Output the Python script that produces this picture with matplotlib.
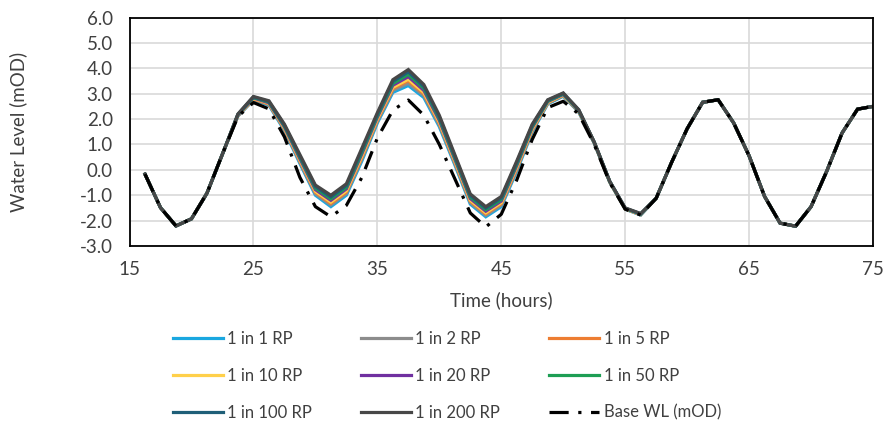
import matplotlib
matplotlib.use('Agg')
import matplotlib.pyplot as plt

plt.rcParams['font.family'] = ['Lato', 'DejaVu Sans']

# 时间 (小时)
hours = [16.25, 17.5, 18.75, 20, 21.25, 22.5, 23.75, 25, 26.25, 27.5, 28.75, 30,
         31.25, 32.5, 33.75, 35, 36.25, 37.5, 38.75, 40, 41.25, 42.5, 43.75, 45,
         46.25, 47.5, 48.75, 50, 51.25, 52.5, 53.75, 55, 56.25, 57.5, 58.75, 60,
         61.25, 62.5, 63.75, 65, 66.25, 67.5, 68.75, 70, 71.25, 72.5, 73.75, 75]

rp_1 = [-0.17, -1.49, -2.21, -1.93, -0.92, 0.62, 2.12, 2.75, 2.55, 1.55, 0.25, -1.00,
        -1.45, -1.00, 0.35, 1.85, 3.05, 3.32, 2.85, 1.70, 0.20, -1.35, -1.85, -1.45,
        -0.05, 1.50, 2.60, 2.90, 2.28, 1.05, -0.48, -1.55, -1.78, -1.12, 0.30, 1.62,
        2.66, 2.76, 1.85, 0.55, -1.05, -2.10, -2.22, -1.45, -0.07, 1.45, 2.39, 2.50]
rp_2 = [-0.17, -1.49, -2.21, -1.93, -0.92, 0.62, 2.13, 2.77, 2.58, 1.59, 0.30, -0.94,
        -1.38, -0.93, 0.43, 1.91, 3.13, 3.41, 2.93, 1.77, 0.26, -1.29, -1.79, -1.39,
        0.01, 1.55, 2.62, 2.92, 2.29, 1.06, -0.48, -1.54, -1.77, -1.12, 0.30, 1.62,
        2.66, 2.76, 1.85, 0.55, -1.05, -2.10, -2.22, -1.45, -0.07, 1.45, 2.39, 2.50]
rp_5 = [-0.17, -1.49, -2.21, -1.93, -0.92, 0.62, 2.14, 2.79, 2.60, 1.63, 0.36, -0.88,
        -1.32, -0.87, 0.50, 1.97, 3.20, 3.51, 3.00, 1.84, 0.32, -1.23, -1.73, -1.33,
        0.07, 1.59, 2.65, 2.94, 2.31, 1.07, -0.47, -1.54, -1.76, -1.12, 0.30, 1.62,
        2.66, 2.76, 1.85, 0.55, -1.05, -2.10, -2.22, -1.45, -0.07, 1.45, 2.39, 2.50]
rp_10 = [-0.17, -1.49, -2.21, -1.93, -0.92, 0.62, 2.15, 2.81, 2.62, 1.65, 0.39, -0.84,
         -1.27, -0.82, 0.55, 2.01, 3.25, 3.57, 3.05, 1.88, 0.36, -1.19, -1.69, -1.29,
         0.11, 1.62, 2.66, 2.95, 2.32, 1.07, -0.47, -1.53, -1.76, -1.12, 0.30, 1.62,
         2.66, 2.76, 1.85, 0.55, -1.05, -2.10, -2.22, -1.45, -0.07, 1.45, 2.39, 2.50]
rp_20 = [-0.17, -1.49, -2.21, -1.93, -0.92, 0.62, 2.16, 2.83, 2.64, 1.69, 0.44, -0.78,
         -1.20, -0.75, 0.63, 2.07, 3.33, 3.67, 3.13, 1.95, 0.42, -1.13, -1.63, -1.23,
         0.17, 1.67, 2.69, 2.97, 2.33, 1.08, -0.46, -1.52, -1.75, -1.12, 0.30, 1.62,
         2.66, 2.76, 1.85, 0.55, -1.05, -2.10, -2.22, -1.45, -0.07, 1.45, 2.39, 2.50]
rp_50 = [-0.17, -1.49, -2.21, -1.93, -0.92, 0.62, 2.18, 2.85, 2.67, 1.73, 0.50, -0.72,
         -1.14, -0.69, 0.70, 2.13, 3.40, 3.76, 3.21, 2.02, 0.48, -1.07, -1.57, -1.17,
         0.23, 1.71, 2.71, 2.99, 2.34, 1.09, -0.46, -1.52, -1.74, -1.12, 0.30, 1.62,
         2.66, 2.76, 1.85, 0.55, -1.05, -2.10, -2.22, -1.45, -0.07, 1.45, 2.39, 2.50]
rp_100 = [-0.17, -1.49, -2.21, -1.93, -0.92, 0.62, 2.19, 2.87, 2.69, 1.76, 0.55, -0.66,
          -1.07, -0.62, 0.78, 2.19, 3.48, 3.86, 3.28, 2.08, 0.54, -1.01, -1.51, -1.11,
          0.29, 1.76, 2.74, 3.01, 2.36, 1.09, -0.45, -1.51, -1.73, -1.12, 0.30, 1.62,
          2.66, 2.76, 1.85, 0.55, -1.05, -2.10, -2.22, -1.45, -0.07, 1.45, 2.39, 2.50]
rp_200 = [-0.17, -1.49, -2.21, -1.93, -0.92, 0.62, 2.20, 2.89, 2.72, 1.80, 0.60, -0.60,
          -1.00, -0.55, 0.85, 2.25, 3.55, 3.95, 3.36, 2.15, 0.60, -0.95, -1.45, -1.05,
          0.35, 1.80, 2.76, 3.03, 2.37, 1.10, -0.45, -1.50, -1.72, -1.12, 0.30, 1.62,
          2.66, 2.76, 1.85, 0.55, -1.05, -2.10, -2.22, -1.45, -0.07, 1.45, 2.39, 2.50]
base_wl = [-0.17, -1.49, -2.21, -1.93, -0.92, 0.62, 2.10, 2.65, 2.40, 1.30, -0.30, -1.45,
           -1.85, -1.40, -0.30, 1.25, 2.35, 2.75, 2.15, 1.00, -0.35, -1.70, -2.25, -1.75,
           -0.40, 1.20, 2.45, 2.70, 2.20, 1.00, -0.50, -1.55, -1.78, -1.12, 0.30, 1.62,
           2.66, 2.76, 1.85, 0.55, -1.05, -2.10, -2.22, -1.45, -0.07, 1.45, 2.39, 2.50]

labels = ['1 in 1 RP', '1 in 2 RP', '1 in 5 RP', '1 in 10 RP', '1 in 20 RP',
          '1 in 50 RP', '1 in 100 RP', '1 in 200 RP']
series = [rp_1, rp_2, rp_5, rp_10, rp_20, rp_50, rp_100, rp_200]
colors = ['#1AA7E0', '#8C8C8C', '#ED7D31', '#FFD04A', '#7030A0', '#1E9E54',
          '#1F5F78', '#474747']

fig = plt.figure(figsize=(8.84, 4.21), dpi=100)
ax = fig.add_axes([0.1465, 0.4157, 0.8411, 0.5427])

for y, lab, c in zip(series, labels, colors):
    ax.plot(hours, y, color=c, lw=2.3, label=lab, solid_joinstyle='miter')
ax.plot(hours, base_wl, color='black', lw=2.3, ls=(0, (6, 3, 1, 3)), label='Base WL (mOD)')

ax.set_xlim(15, 75)
ax.set_ylim(-3, 6)
ax.set_xticks(range(15, 76, 10))
ax.set_yticks(range(-3, 7))
ax.set_yticklabels(['{:.1f}'.format(v) for v in range(-3, 7)])
ax.tick_params(length=0, labelsize=13.5, colors='#404040')
ax.tick_params(axis='y', pad=12)
ax.tick_params(axis='x', pad=11)
ax.grid(True, color='#D9D9D9', lw=1.2)
ax.set_axisbelow(True)
for s in ax.spines.values():
    s.set_color('black')
    s.set_linewidth(1.3)

ax.set_xlabel('Time (hours)', fontsize=13.5, color='#404040', labelpad=9)
ax.set_ylabel('Water Level (mOD)', fontsize=13.5, color='#404040')
ax.yaxis.set_label_coords(-0.137, 0.5)

# 图例按行排列
h, l = ax.get_legend_handles_labels()
order = [0, 3, 6, 1, 4, 7, 2, 5, 8]
fig.legend([h[i] for i in order], [l[i] for i in order], ncol=3,
           loc='upper left', bbox_to_anchor=(173 / 884, 1 - 331 / 421),
           frameon=False, fontsize=12, handlelength=3.0, handletextpad=0.25,
           columnspacing=2.95, labelspacing=1.25, borderpad=0, borderaxespad=0,
           labelcolor='#404040')

fig.savefig('out.png', dpi=100)
